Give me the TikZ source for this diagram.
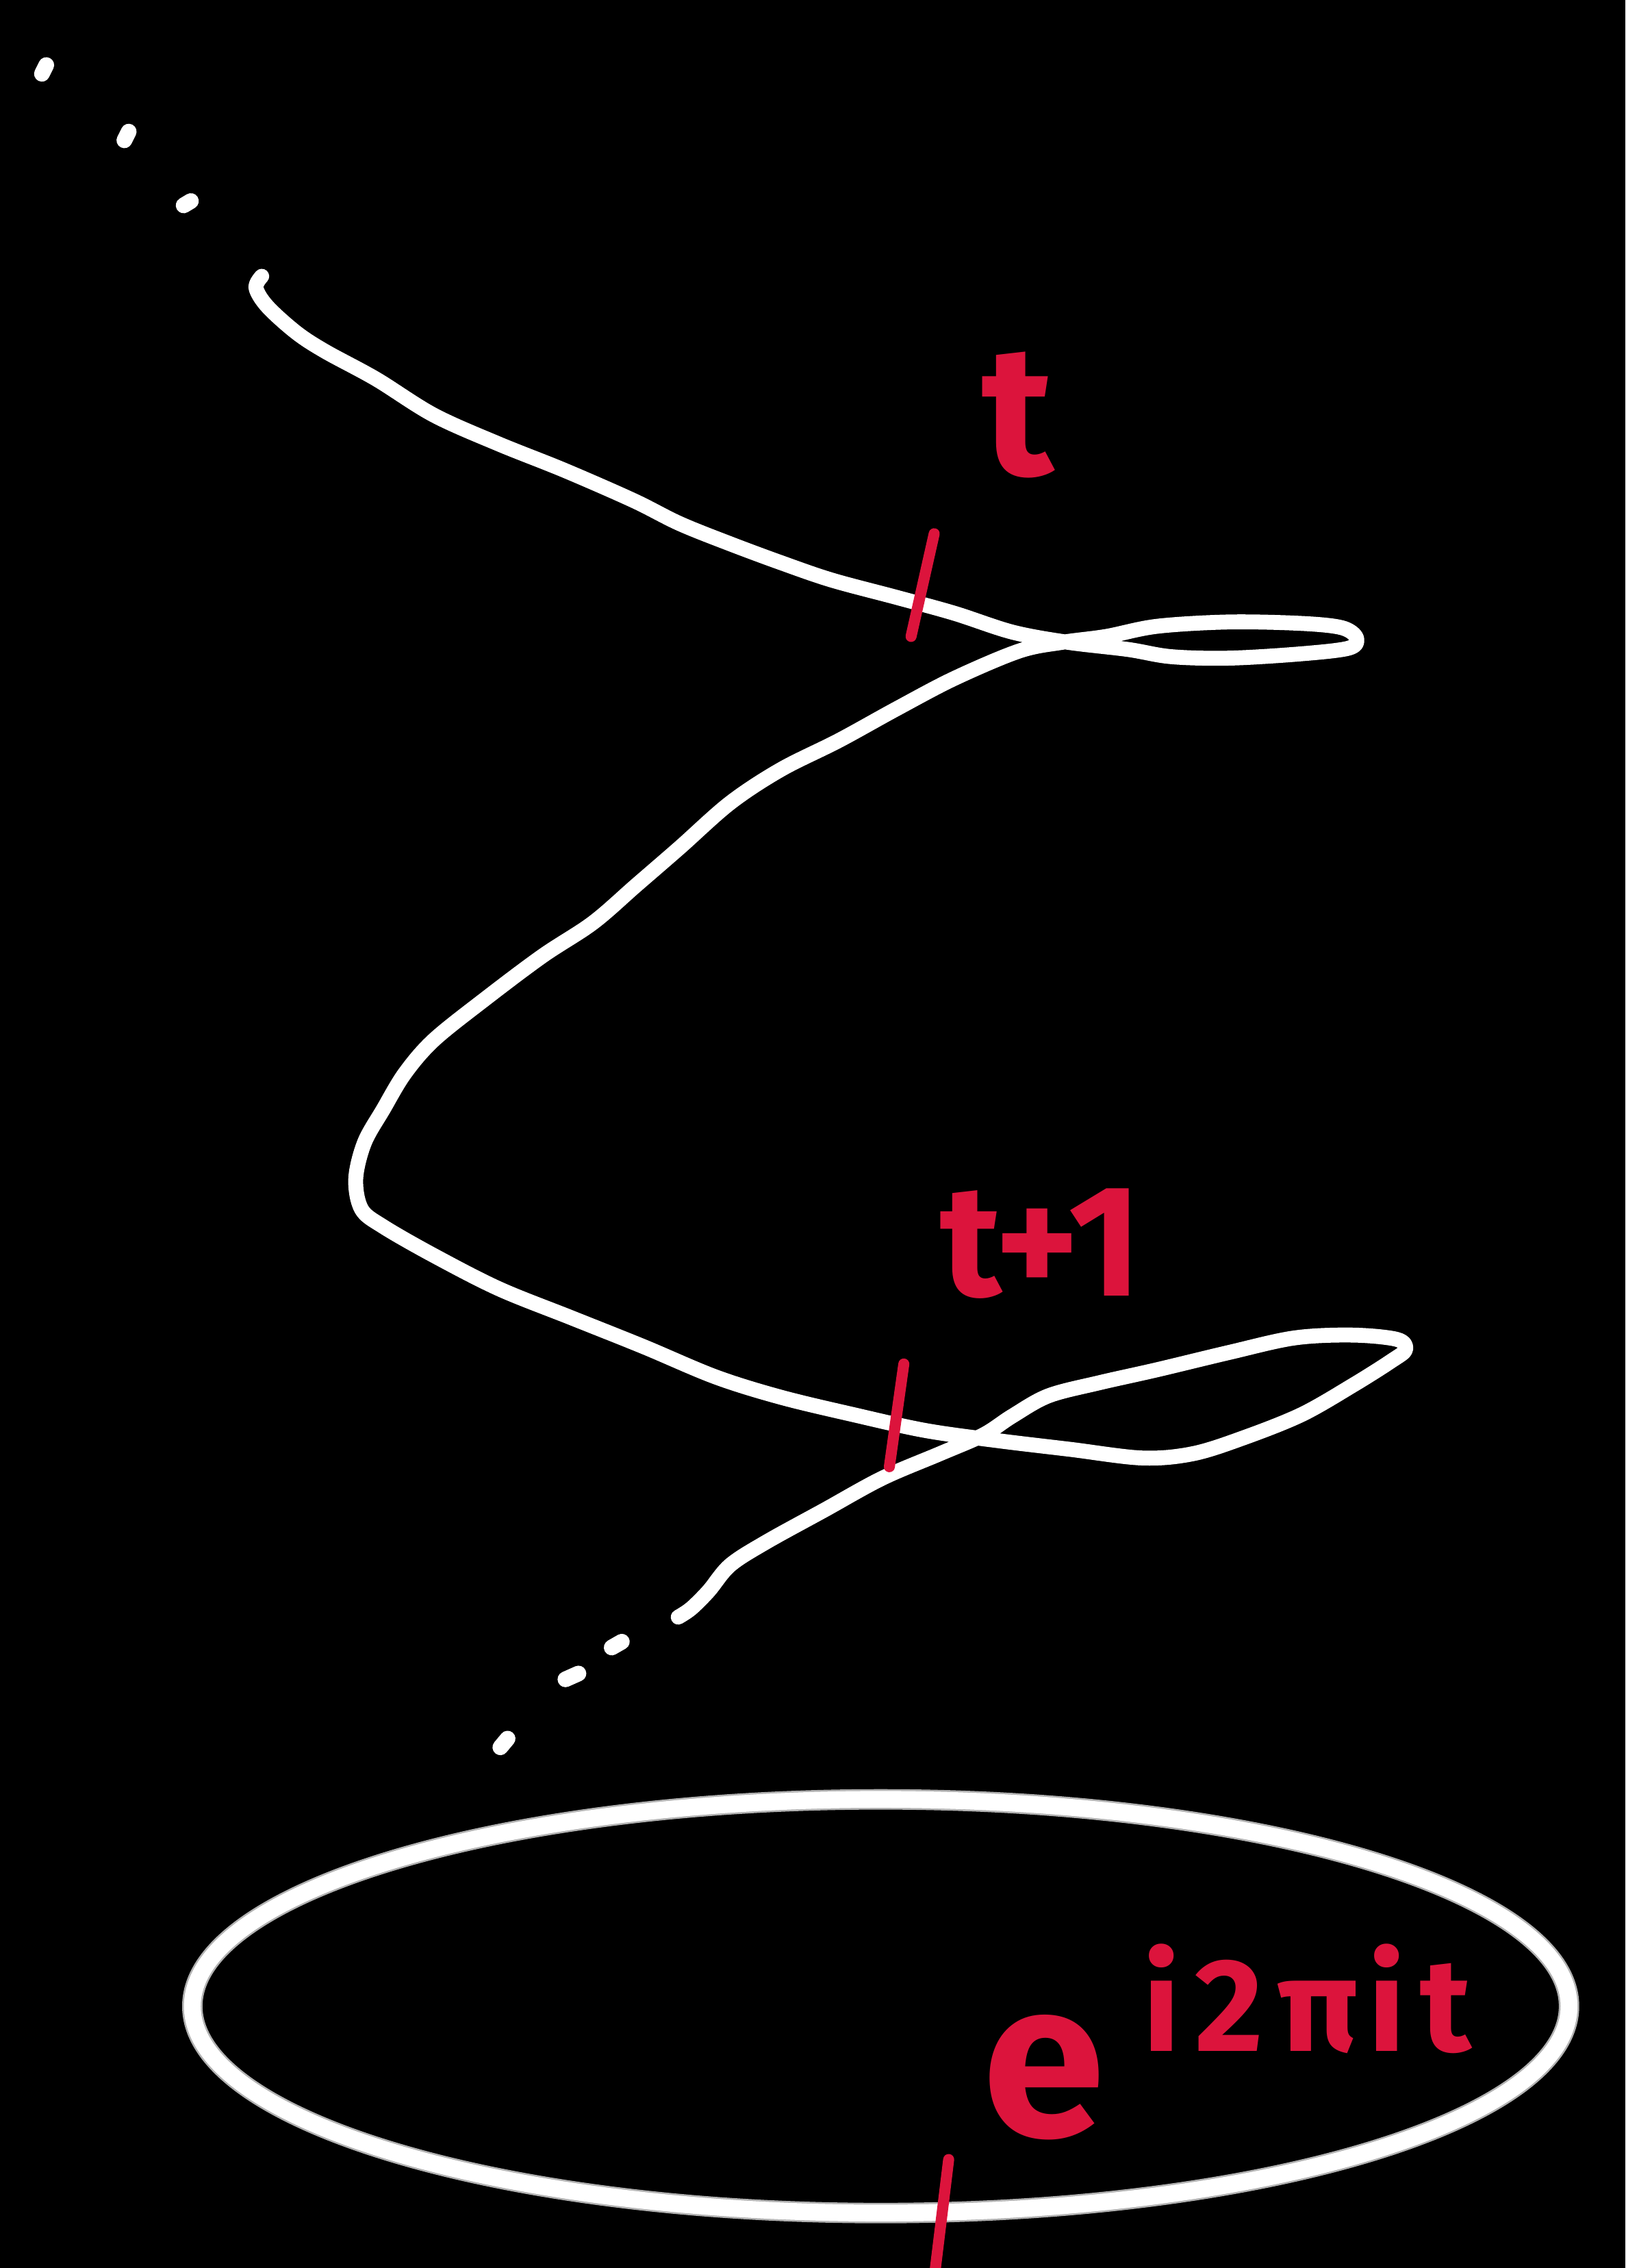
\documentclass[tikz,border=0pt]{standalone}
\usepackage{fontspec}
\setmainfont{Fira Sans}
\definecolor{inkred}{RGB}{220,20,60}
\begin{document}
\begin{tikzpicture}[x=0.2113mm,y=-0.2113mm,
  helix/.style={draw=white,line width=6.2pt,line cap=round,line join=round},
  dotmark/.style={draw=white,line width=2.3mm,line cap=round},
  tick/.style={draw=inkred,line width=4.6pt,line cap=round},
  lbl/.style={text=inkred,inner sep=0pt,anchor=center}]
\useasboundingbox (0,0) rectangle (1124,1568);
\fill[black] (0,0) rectangle (1124,1568);
% dots above
\draw[dotmark] (29,51) -- (32,45);
\draw[dotmark] (86,97) -- (89,91);
\draw[dotmark] (127,142) -- (132,139);
% helix
\draw[helix] plot[smooth,tension=0.55] coordinates {
 (181,191) (177,199) (185,212) (205,230) (225,243) (260,262) (300,287) (345,307) (390,325)
 (438,346) (470,362) (505,376) (540,389) (575,401) (620,413) (660,424) (700,437) (738,444)
 (780,449) (810,454) (850,455) (900,452) (933,448) (938,441) (928,434) (900,431) (850,430)
 (800,433) (765,440) (735,444) (705,450) (660,469) (620,490) (580,512) (540,532) (505,555)
 (470,586) (440,612) (410,638) (375,661) (335,691) (300,719) (280,742) (265,767) (252,790)
 (246,815) (250,836) (265,848) (300,868) (345,891) (395,911) (445,931) (495,952) (540,966)
 (590,978) (640,989) (690,996) (740,1002) (790,1008) (825,1005) (860,994) (900,978) (935,958)
 (962,941) (972,933) (966,926) (935,923) (895,925) (850,935) (800,947) (760,956) (725,965)
 (700,979) (680,992) (650,1005) (610,1022) (570,1044) (530,1066) (505,1082) (490,1100)
 (478,1112) (469,1118)};
% dots below
\draw[dotmark] (423,1139) -- (430,1135);
\draw[dotmark] (391,1161) -- (400,1157);
\draw[dotmark] (346,1208) -- (351,1202);
% base circle
\draw[gray!60,line width=8.5pt] (609,1387) ellipse [x radius=476,y radius=143];
\draw[white,line width=7pt] (609,1387) ellipse [x radius=476,y radius=143];
% ticks
\draw[tick] (646,369) -- (630,440);
\draw[tick] (625,943) -- (615,1014);
\draw[tick] (656,1493) -- (646,1575);
% labels
\node[lbl,font=\bfseries\fontsize{77}{80}\selectfont] (tlabel) at (704,287) {t};
\node[lbl,font=\bfseries\fontsize{66}{70}\selectfont] (t1label) at (720,860) {t+1};
\node[lbl,font=\bfseries\fontsize{92}{96}\selectfont] (elabel) at (722,1436) {e};
\node[lbl,font=\bfseries\fontsize{55}{60}\selectfont] (suplabel) at (904,1382) {i\hspace{6pt}2\hspace{6pt}π\hspace{4pt}i\hspace{6pt}t};
\end{tikzpicture}
\end{document}
